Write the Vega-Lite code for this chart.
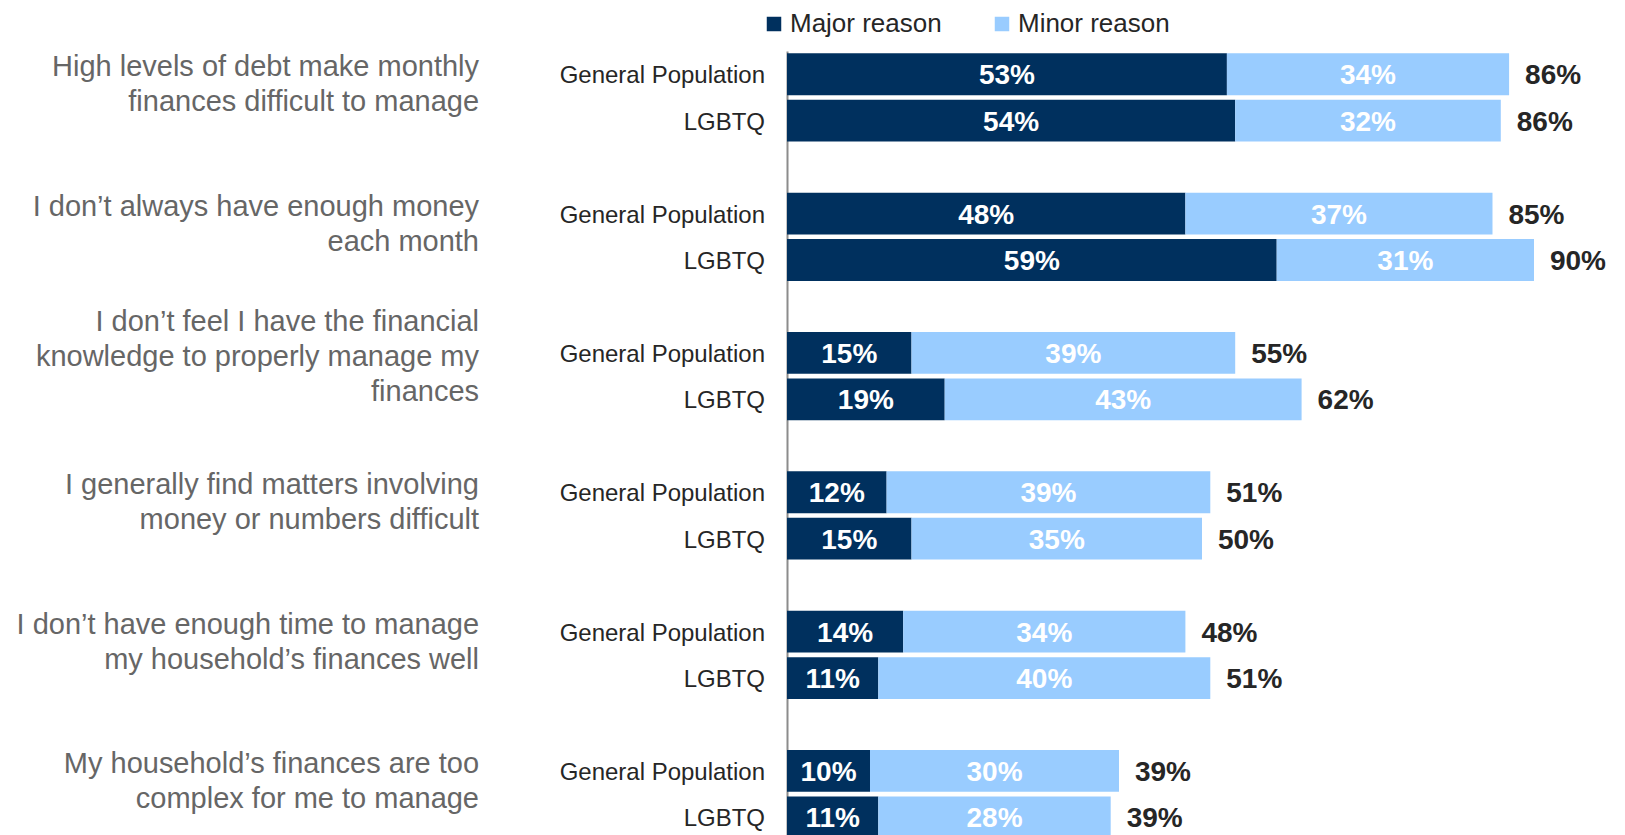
{
  "$schema": "https://vega.github.io/schema/vega-lite/v6.json",
  "autosize": "none",
  "padding": {"left": 787, "top": 51, "right": 8, "bottom": 0},
  "width": 830,
  "height": {"step": 46.45},
  "background": "white",
  "config": {"view": {"stroke": null}, "font": "Liberation Sans"},
  "datasets": {
    "bars": [
      {"slot": "1a", "pop": "General Population", "Major reason": 53, "Minor reason": 34, "net": 86},
      {"slot": "1b", "pop": "LGBTQ", "Major reason": 54, "Minor reason": 32, "net": 86},
      {"slot": "2a", "pop": "General Population", "Major reason": 48, "Minor reason": 37, "net": 85},
      {"slot": "2b", "pop": "LGBTQ", "Major reason": 59, "Minor reason": 31, "net": 90},
      {"slot": "3a", "pop": "General Population", "Major reason": 15, "Minor reason": 39, "net": 55},
      {"slot": "3b", "pop": "LGBTQ", "Major reason": 19, "Minor reason": 43, "net": 62},
      {"slot": "4a", "pop": "General Population", "Major reason": 12, "Minor reason": 39, "net": 51},
      {"slot": "4b", "pop": "LGBTQ", "Major reason": 15, "Minor reason": 35, "net": 50},
      {"slot": "5a", "pop": "General Population", "Major reason": 14, "Minor reason": 34, "net": 48},
      {"slot": "5b", "pop": "LGBTQ", "Major reason": 11, "Minor reason": 40, "net": 51},
      {"slot": "6a", "pop": "General Population", "Major reason": 10, "Minor reason": 30, "net": 39},
      {"slot": "6b", "pop": "LGBTQ", "Major reason": 11, "Minor reason": 28, "net": 39}
    ],
    "questions": [
      {"slot": "1a", "q": ["High levels of debt make monthly", "finances difficult to manage"]},
      {"slot": "2a", "q": ["I don’t always have enough money", "each month"]},
      {"slot": "3a", "q": ["I don’t feel I have the financial", "knowledge to properly manage my", "finances"]},
      {"slot": "4a", "q": ["I generally find matters involving", "money or numbers difficult"]},
      {"slot": "5a", "q": ["I don’t have enough time to manage", "my household’s finances well"]},
      {"slot": "6a", "q": ["My household’s finances are too", "complex for me to manage"]}
    ]
  },
  "encoding": {
    "y": {
      "field": "slot",
      "type": "nominal",
      "scale": {
        "domain": ["1a","1b","1c","2a","2b","2c","3a","3b","3c","4a","4b","4c","5a","5b","5c","6a","6b","6c"],
        "paddingInner": 0.1,
        "paddingOuter": 0.05
      },
      "axis": {"labels": false, "ticks": false, "title": null, "grid": false, "domainColor": "#8c8c8c", "domainWidth": 2}
    }
  },
  "layer": [
    {
      "data": {"name": "bars"},
      "transform": [
        {"fold": ["Major reason", "Minor reason"], "as": ["type", "value"]},
        {"stack": "value", "groupby": ["slot"], "sort": [{"field": "type", "order": "ascending"}], "as": ["x0", "x1"]}
      ],
      "layer": [
        {
          "mark": {"type": "bar"},
          "encoding": {
            "x": {"field": "x0", "type": "quantitative", "scale": {"domain": [0, 100]}, "axis": null},
            "x2": {"field": "x1"},
            "color": {
              "field": "type",
              "type": "nominal",
              "scale": {"domain": ["Major reason", "Minor reason"], "range": ["#00305E", "#99CCFF"]},
              "legend": {
                "orient": "none",
                "legendX": -26,
                "legendY": -40,
                "direction": "horizontal",
                "title": null,
                "symbolType": "square",
                "symbolSize": 210,
                "symbolStrokeWidth": 0,
                "labelFontSize": 26,
                "labelColor": "#262626",
                "labelLimit": 300,
                "labelOffset": 3,
                "columnPadding": 47,
                "padding": 0
              }
            }
          }
        },
        {
          "transform": [
            {"fold": ["x0", "x1"], "as": ["edge", "pos"]},
            {"aggregate": [{"op": "mean", "field": "pos", "as": "mid"}], "groupby": ["slot", "type", "value"]}
          ],
          "mark": {"type": "text", "color": "white", "fontWeight": "bold", "fontSize": 28, "baseline": "middle", "align": "center", "dy": 2, "text": {"expr": "datum.value + '%'"}},
          "encoding": {
            "x": {"field": "mid", "type": "quantitative"}
          }
        },
        {
          "transform": [{"filter": "datum.type === 'Minor reason'"}],
          "mark": {"type": "text", "color": "#262626", "fontWeight": "bold", "fontSize": 28, "baseline": "middle", "align": "left", "dx": 16, "dy": 2, "text": {"expr": "datum.net + '%'"}},
          "encoding": {
            "x": {"field": "x1", "type": "quantitative"}
          }
        }
      ]
    },
    {
      "data": {"name": "bars"},
      "mark": {"type": "text", "align": "right", "baseline": "middle", "dx": -22, "dy": 2, "fontSize": 24, "color": "#262626"},
      "encoding": {
        "x": {"datum": 0, "type": "quantitative"},
        "text": {"field": "pop", "type": "nominal"}
      }
    },
    {
      "data": {"name": "questions"},
      "transform": [{"filter": "length(datum.q) == 2"}],
      "mark": {"type": "text", "align": "right", "baseline": "middle", "dx": -308, "dy": -7, "fontSize": 29, "lineHeight": 35, "color": "#666666"},
      "encoding": {
        "x": {"datum": 0, "type": "quantitative"},
        "text": {"field": "q", "type": "nominal"}
      }
    },
    {
      "data": {"name": "questions"},
      "transform": [{"filter": "length(datum.q) == 3"}],
      "mark": {"type": "text", "align": "right", "baseline": "middle", "dx": -308, "dy": -31, "fontSize": 29, "lineHeight": 35, "color": "#666666"},
      "encoding": {
        "x": {"datum": 0, "type": "quantitative"},
        "text": {"field": "q", "type": "nominal"}
      }
    }
  ]
}
